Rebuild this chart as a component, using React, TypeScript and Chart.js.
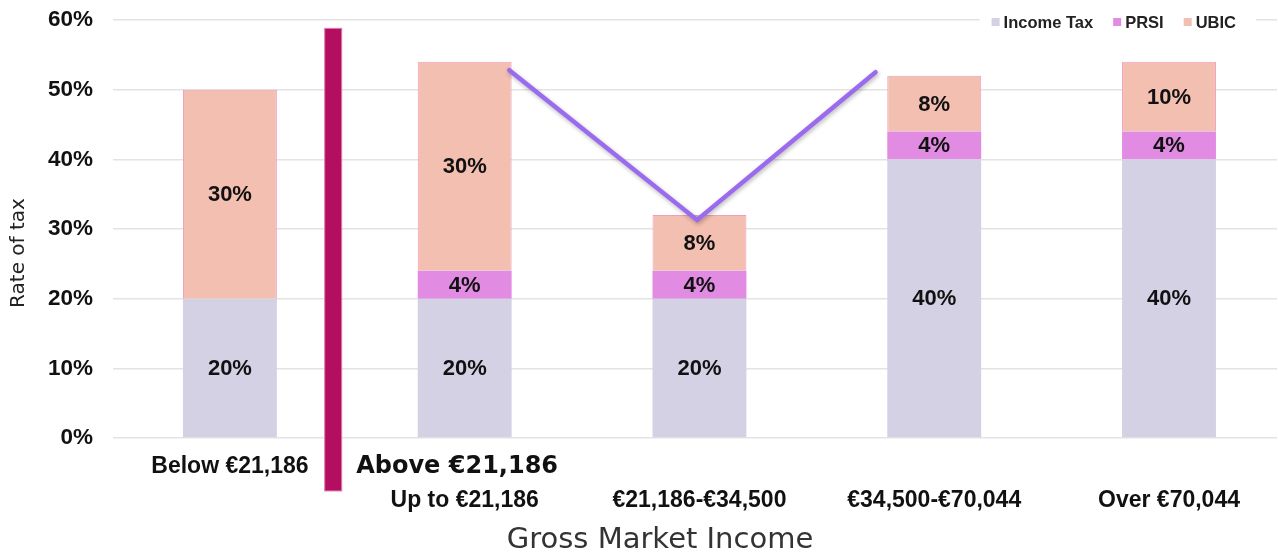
import React, { useEffect, useRef } from 'react';
import { Chart, registerables } from 'chart.js';

Chart.register(...registerables);

// ---- data ----
const categories = ['Below €21,186', 'Up to €21,186', '€21,186-€34,500', '€34,500-€70,044', 'Over €70,044'];
const categoryPositions = [0, 1, 2, 3, 4];
const seriesNames = ['Income Tax', 'PRSI', 'UBIC'];
const incomeTax = [20, 20, 20, 40, 40];
const prsi = [0, 4, 4, 4, 4];
const ubic = [30, 30, 8, 8, 10];
const trendX = [1.19, 1.99, 2.75];
const trendY = [52.8, 31.3, 52.5];
const yTickValues = [0, 10, 20, 30, 40, 50, 60];
const dividerX = 0.44;
const dividerTop = 58.8;
const dividerBottom = -7.6;
const dividerLabel = 'Above €21,186';
const xTitle = 'Gross Market Income';
const yTitle = 'Rate of tax';

const colors = ['#D5D1E5', '#E18CE2', '#F3BFB1'];
const HELV = '"Liberation Sans", Arial, Helvetica, sans-serif';
const DEJAVU = '"DejaVu Sans", sans-serif';

export default function App() {
  const ref = useRef<HTMLCanvasElement | null>(null);

  useEffect(() => {
    if (!ref.current) return;
    const barSets = [incomeTax, prsi, ubic].map((vals, i) => ({
      type: 'bar' as const,
      label: seriesNames[i],
      data: vals.map((v, j) => ({ x: categoryPositions[j], y: v })),
      backgroundColor: colors[i],
      borderColor: i === 2 ? '#EF9EBE' : colors[i],
      borderWidth: i === 2 ? 1 : 0,
      barPercentage: 0.4,
      categoryPercentage: 1,
      order: 1,
    }));
    const lineSet = {
      type: 'line' as const,
      label: 'trend',
      data: trendX.map((x, i) => ({ x, y: trendY[i] })),
      borderColor: '#9A6BEE',
      borderWidth: 4.5,
      pointRadius: 0,
      fill: false,
      stack: 'trend',
      order: 0,
      borderCapStyle: 'round' as const,
      borderJoinStyle: 'miter' as const,
    };

    const decor = {
      id: 'decor',
      beforeDatasetDraw(chart: any, args: any) {
        if (args.index === 3) {
          const ctx = chart.ctx;
          ctx.save();
          ctx.shadowColor = 'rgba(0,0,0,0.28)';
          ctx.shadowBlur = 4;
          ctx.shadowOffsetX = 1;
          ctx.shadowOffsetY = 2;
        }
      },
      afterDatasetDraw(chart: any, args: any) {
        if (args.index === 3) chart.ctx.restore();
      },
      afterDatasetsDraw(chart: any) {
        const ctx = chart.ctx;
        const xs = chart.scales.x;
        const ys = chart.scales.y;
        const sets = [incomeTax, prsi, ubic];
        ctx.save();
        ctx.font = `bold 22px ${HELV}`;
        ctx.fillStyle = '#111';
        ctx.textAlign = 'center';
        ctx.textBaseline = 'middle';
        sets.forEach((vals, i) => {
          const meta = chart.getDatasetMeta(i);
          meta.data.forEach((el: any, j: number) => {
            const v = vals[j];
            if (!v) return;
            const p = el.getProps(['x', 'y', 'base'], true);
            ctx.fillText(`${v}%`, p.x, (p.y + p.base) / 2 + 1);
          });
        });
        ctx.restore();

        const dx = xs.getPixelForValue(dividerX);
        const dt = ys.getPixelForValue(dividerTop);
        const db = ys.getPixelForValue(dividerBottom);
        ctx.save();
        ctx.fillStyle = '#B30E60';
        ctx.strokeStyle = '#E07AAE';
        ctx.lineWidth = 1;
        ctx.fillRect(dx - 8.5, dt, 17, db - dt);
        ctx.strokeRect(dx - 8.5, dt, 17, db - dt);
        ctx.restore();
      },
      afterDraw(chart: any) {
        const ctx = chart.ctx;
        const xs = chart.scales.x;
        const ca = chart.chartArea;
        ctx.save();
        ctx.font = `bold 24px ${DEJAVU}`;
        ctx.fillStyle = '#111';
        ctx.textAlign = 'left';
        ctx.textBaseline = 'middle';
        ctx.fillText(dividerLabel, xs.getPixelForValue(dividerX) + 23, 467);

        ctx.font = `29px ${DEJAVU}`;
        ctx.fillStyle = '#333';
        ctx.textAlign = 'center';
        ctx.fillText(xTitle, 660, 540);

        ctx.save();
        ctx.translate(19, 253);
        ctx.rotate(-Math.PI / 2);
        ctx.font = `20px ${DEJAVU}`;
        ctx.fillStyle = '#222';
        ctx.textAlign = 'center';
        ctx.textBaseline = 'middle';
        ctx.fillText(yTitle, 0, 0);
        ctx.restore();

        ctx.font = `bold 16.5px ${HELV}`;
        const gap = 20;
        const sq = 8;
        let total = 0;
        const widths = seriesNames.map((n) => ctx.measureText(n).width);
        widths.forEach((w) => (total += sq + 4 + w));
        total += gap * (seriesNames.length - 1);
        const legRight = ca.right - 41;
        let lx = legRight - total;
        const ly = 22;
        ctx.fillStyle = '#fff';
        ctx.fillRect(lx - 12, ly - 12, total + 32, 24);
        ctx.textAlign = 'left';
        ctx.textBaseline = 'middle';
        seriesNames.forEach((n, i) => {
          ctx.fillStyle = colors[i];
          ctx.fillRect(lx, ly - 4, sq, sq);
          ctx.fillStyle = '#222';
          ctx.fillText(n, lx + sq + 4, ly + 1);
          lx += sq + 4 + widths[i] + gap;
        });
        ctx.restore();
      },
    };

    const chart = new Chart(ref.current, {
      type: 'bar',
      data: { datasets: [...barSets, lineSet] as any },
      options: {
        responsive: false,
        animation: false,
        layout: { padding: { left: 0, right: 1, top: 20, bottom: 0 }, autoPadding: false } as any,
        plugins: { legend: { display: false }, tooltip: { enabled: false } },
        scales: {
          x: {
            type: 'linear',
            stacked: true,
            offset: false,
            min: -0.498,
            max: 4.46,
            grid: { display: false, drawTicks: false },
            border: { display: false },
            afterBuildTicks: (scale: any) => {
              scale.ticks = categoryPositions.map((v) => ({ value: v }));
            },
            afterFit: (scale: any) => {
              scale.height = 115;
              scale.paddingLeft = 0;
              scale.paddingRight = 0;
            },
            ticks: {
              autoSkip: false,
              maxRotation: 0,
              padding: 12,
              color: '#111',
              font: { family: HELV, size: 23, weight: 'bold', lineHeight: '34px' } as any,
              callback: (value: any) => {
                const idx = categoryPositions.indexOf(Number(value));
                if (idx < 0) return '';
                return idx === 0 ? categories[idx] : ['', categories[idx]];
              },
            },
          } as any,
          y: {
            stacked: true,
            min: 0,
            max: 60,
            afterBuildTicks: (scale: any) => {
              scale.ticks = yTickValues.map((v) => ({ value: v }));
            },
            afterFit: (scale: any) => {
              scale.width = 113;
              scale.paddingTop = 0;
              scale.paddingBottom = 0;
            },
            grid: { color: '#E3E3E3', lineWidth: 1.5, drawTicks: false },
            border: { display: false },
            ticks: {
              padding: 20,
              color: '#111',
              font: { family: HELV, size: 22.5, weight: 'bold' } as any,
              callback: (v: any) => `${v}%`,
            },
          },
        },
      },
      plugins: [decor],
    });
    return () => chart.destroy();
  }, []);

  return (
    <div style={{ position: 'fixed', left: 0, top: 0, width: 1278, height: 553, background: '#fff' }}>
      <canvas ref={ref} width={1278} height={553} style={{ display: 'block' }} />
    </div>
  );
}
